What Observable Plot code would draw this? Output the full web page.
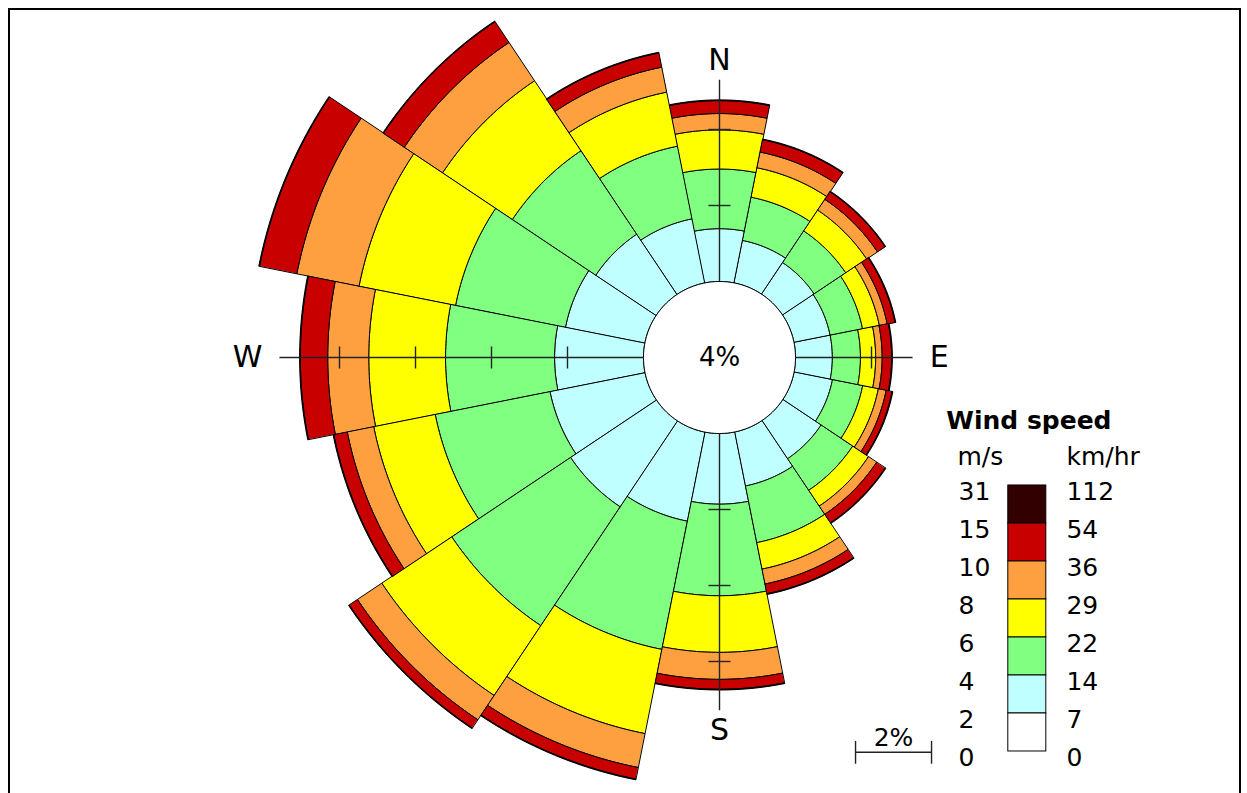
<!DOCTYPE html>
<html>
<head>
<meta charset="utf-8">
<script src="https://cdn.jsdelivr.net/npm/d3@7"></script>
<script src="https://cdn.jsdelivr.net/npm/@observablehq/plot@0.6"></script>
<style>
html,body{margin:0;padding:0;background:#fff;overflow:hidden;}
#wrap{position:relative;width:1247px;height:793px;}
#frame{position:absolute;left:8px;top:8px;width:1229px;height:820px;border:2px solid #000;border-bottom:none;pointer-events:none;}
</style>
</head>
<body>
<div id="wrap"><div id="chart"></div><div id="frame"></div></div>
<script>
// ---------- data ----------
const directions = ["N","NNE","NE","ENE","E","ESE","SE","SSE","S","SSW","SW","WSW","W","WNW","NW","NNW"];
const speedBins = ["0-2","2-4","4-6","6-8","8-10","10-15","15-31"];
const binColors = ["#ffffff","#c0ffff","#80ff80","#ffff00","#ffa040","#c80000","#330000"];
// frequency (%) per direction for each speed bin (m/s)
const freq_2_4   = [1.39,1.14,1.00,0.97,0.97,1.03,1.21,1.45,1.86,2.39,2.72,2.55,2.34,2.13,1.91,1.72];
const freq_4_6   = [1.57,1.16,1.00,0.87,0.74,0.81,1.00,1.52,2.41,3.44,3.76,3.08,2.87,2.95,2.64,1.95];
const freq_6_8   = [1.03,0.79,0.66,0.45,0.40,0.42,0.50,0.71,1.49,2.26,2.21,1.65,2.02,2.59,2.21,1.45];
const freq_8_10  = [0.43,0.42,0.34,0.21,0.17,0.21,0.26,0.40,0.71,0.91,0.77,0.71,1.08,1.67,1.21,0.67];
const freq_10_15 = [0.34,0.33,0.24,0.21,0.25,0.16,0.27,0.26,0.26,0.31,0.26,0.36,0.72,1.00,0.66,0.38];
const freq_15_31 = [0.02,0.02,0.02,0.02,0.02,0.02,0.02,0.02,0.02,0.02,0.02,0.02,0.02,0.02,0.02,0.02];
const calmPercent = 4;
const compassLabels = ["N","E","S","W"];
const legendMs  = ["31","15","10","8","6","4","2","0"];
const legendKmh = ["112","54","36","29","22","14","7","0"];
const scalePercent = 2;

// ---------- geometry (1 unit = 1 %) ----------
const series = [freq_2_4,freq_4_6,freq_6_8,freq_8_10,freq_10_15,freq_15_31];
const innerR = 2;             // radius of the calm circle in plot units
const step = 360 / directions.length;
const rad = a => a * Math.PI / 180;
const totals = directions.map((d,i) => series.reduce((s,arr) => s + arr[i], 0));

const sectorRows = [];
directions.forEach((d,i) => {
  let cum = 0;
  series.forEach((arr,j) => {
    const a = innerR + cum, b = innerR + cum + arr[i];
    cum += arr[i];
    const t0 = rad(i*step - step/2), t1 = rad(i*step + step/2);
    const id = d + "-" + j, bin = speedBins[j+1];
    const N = 30;
    for (let k = 0; k <= N; k++) { const t = t0 + (t1-t0)*k/N; sectorRows.push({id, bin, x: b*Math.sin(t), y: b*Math.cos(t)}); }
    for (let k = N; k >= 0; k--) { const t = t0 + (t1-t0)*k/N; sectorRows.push({id, bin, x: a*Math.sin(t), y: a*Math.cos(t)}); }
  });
});

const calmRows = d3.range(0, 361, 2).map(a => ({x: innerR*Math.sin(rad(a)), y: innerR*Math.cos(rad(a))}));

// compass axes, ticks, labels
const axisRows = [], tickRows = [], labelRows = [];
compassLabels.forEach((lab,q) => {
  const i = directions.indexOf(lab);
  const t = rad(i*step), sx = Math.sin(t), sy = Math.cos(t);
  const tot = totals[i];
  const end = innerR + tot + 0.53;
  axisRows.push({x1: innerR*sx, y1: innerR*sy, x2: end*sx, y2: end*sy});
  for (let k = 2; k < tot; k += 2) {
    const r = innerR + k;
    tickRows.push({x1: r*sx - 0.29*sy, y1: r*sy + 0.29*sx, x2: r*sx + 0.29*sy, y2: r*sy - 0.29*sx});
  }
  const lr = innerR + tot + (Math.abs(sx) > 0.5 ? 0.98 : 1.05);
  labelRows.push({text: lab, x: lr*sx, y: lr*sy, side: sx > 0.5 ? "start" : sx < -0.5 ? "end" : "middle"});
});

// legend
const legTop = -3.368;
const legendRect = legendMs.slice(0,-1).map((m,k) => ({bin: speedBins[speedBins.length-1-k], y1: legTop - k, y2: legTop - k - 1}));
const legendText = legendMs.map((m,k) => ({ms: m, kmh: legendKmh[k], y: legTop - k - 0.16}));

const W = 1247, H = 793, cx = 719, cy = 357, px = 38;
const font = "DejaVu Sans, Liberation Sans, sans-serif";

const labelMark = side => Plot.text(labelRows.filter(d => d.side === side),
  {x: "x", y: "y", text: "text", textAnchor: side, fontSize: 30, fill: "#000"});

const plot = Plot.plot({
  width: W, height: H,
  marginTop: 0, marginRight: 0, marginBottom: 0, marginLeft: 0,
  x: {domain: [-cx/px, (W-cx)/px], axis: null},
  y: {domain: [-(H-cy)/px, cy/px], axis: null},
  color: {type: "ordinal", domain: speedBins, range: binColors},
  style: {fontFamily: font, background: "#fff", overflow: "visible"},
  marks: [
    Plot.line(sectorRows, {x: "x", y: "y", z: "id", fill: "bin", stroke: "#000", strokeWidth: 1, curve: "linear-closed"}),
    Plot.line(calmRows, {x: "x", y: "y", fill: "#fff", stroke: "#000", strokeWidth: 1, curve: "linear-closed"}),
    Plot.link(axisRows, {x1: "x1", y1: "y1", x2: "x2", y2: "y2", stroke: "#222", strokeWidth: 1.4}),
    Plot.link(tickRows, {x1: "x1", y1: "y1", x2: "x2", y2: "y2", stroke: "#222", strokeWidth: 1.4}),
    labelMark("start"), labelMark("end"), labelMark("middle"),
    Plot.text([calmPercent + "%"], {x: 0, y: 0, text: d => d, fontSize: 26, fill: "#000"}),
    // legend
    Plot.text(["Wind speed"], {x: 5.97, y: -1.68, text: d => d, textAnchor: "start", fontSize: 25, fontWeight: "bold", fill: "#000"}),
    Plot.text(["m/s"], {x: 6.26, y: -2.63, text: d => d, textAnchor: "start", fontSize: 25, fill: "#000"}),
    Plot.text(["km/hr"], {x: 9.13, y: -2.63, text: d => d, textAnchor: "start", fontSize: 25, fill: "#000"}),
    Plot.rect(legendRect, {x1: 7.6, x2: 8.6, y1: "y1", y2: "y2", fill: "bin", stroke: "#000", strokeWidth: 1}),
    Plot.text(legendText, {x: 6.29, y: "y", text: "ms", textAnchor: "start", fontSize: 25, fill: "#000"}),
    Plot.text(legendText, {x: 9.13, y: "y", text: "kmh", textAnchor: "start", fontSize: 25, fill: "#000"}),
    // scale bar
    Plot.link([scalePercent], {x1: 3.58, x2: d => 3.58 + d, y1: -10.39, y2: -10.39, stroke: "#222", strokeWidth: 1.4}),
    Plot.link([0, scalePercent], {x1: d => 3.58 + d, x2: d => 3.58 + d, y1: -10.09, y2: -10.69, stroke: "#222", strokeWidth: 1.4}),
    Plot.text([scalePercent + "%"], {x: 3.58 + scalePercent/2, y: -10.0, text: d => d, fontSize: 25, fill: "#000"})
  ]
});
document.getElementById("chart").appendChild(plot);
</script>
</body>
</html>
